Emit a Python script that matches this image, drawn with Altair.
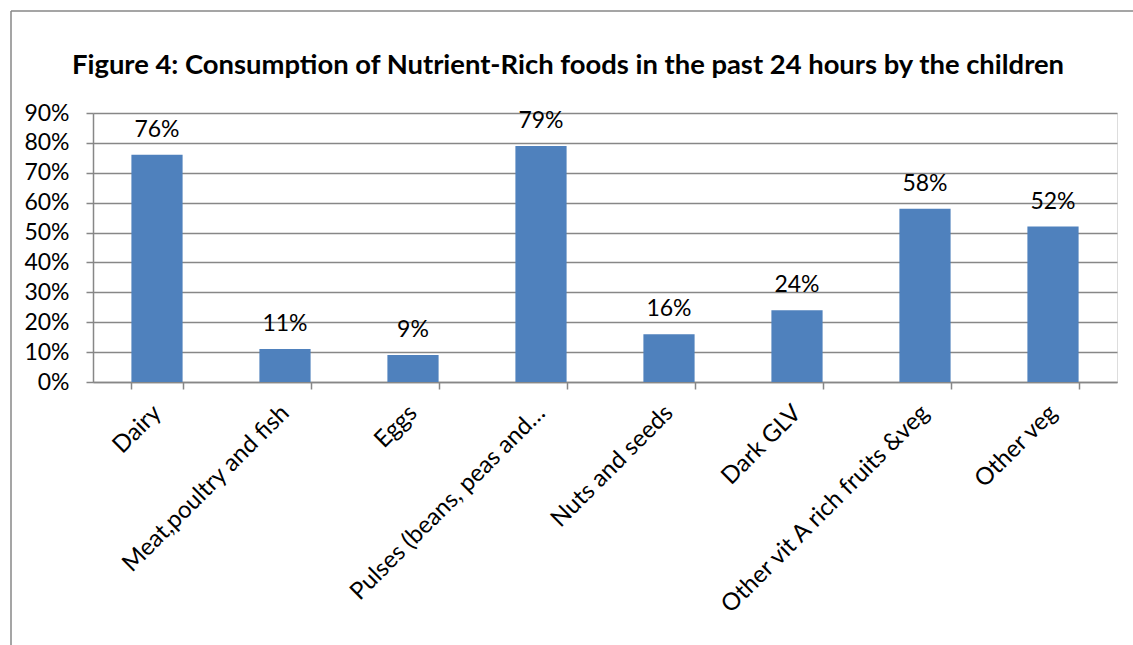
import altair as alt
import pandas as pd

# Share of children who ate each nutrient-rich food group in the past 24 hours
categories = [
    "Dairy",
    "Meat,poultry and fish",
    "Eggs",
    "Pulses (beans, peas and…",
    "Nuts and seeds",
    "Dark GLV",
    "Other vit A rich fruits &veg",
    "Other veg",
]
shares = [0.76, 0.11, 0.09, 0.79, 0.16, 0.24, 0.58, 0.52]
y_ticks = [0.0, 0.1, 0.2, 0.3, 0.4, 0.5, 0.6, 0.7, 0.8, 0.9]

df = pd.DataFrame({"food": categories, "share": shares})

FONT = "Lato"
GRAY = "#878787"
BLUE = "#4F81BD"
FS = 23

x_enc = alt.X(
    "food:N",
    sort=categories,
    title=None,
    scale=alt.Scale(paddingInner=0.6, paddingOuter=0.3),
    axis=alt.Axis(
        labelAngle=-45,
        labelAlign="right",
        labelBaseline="middle",
        labelFontSize=24,
        labelFont=FONT,
        labelColor="black",
        labelLimit=500,
        labelPadding=20,
        labelOverlap=False,
        tickBand="extent",
        tickSize=7,
        tickColor=GRAY,
        tickWidth=1.5,
        domainColor=GRAY,
        domainWidth=1.5,
        grid=False,
    ),
)
y_enc = alt.Y(
    "share:Q",
    title=None,
    scale=alt.Scale(domain=[0, 0.9], nice=False),
    axis=alt.Axis(
        values=y_ticks,
        format=".0%",
        labelFontSize=FS,
        labelFont=FONT,
        labelColor="black",
        labelPadding=17,
        labelOverlap=False,
        labelFlush=False,
        tickSize=7,
        tickColor=GRAY,
        tickWidth=1.5,
        domainColor=GRAY,
        domainWidth=1.5,
        gridColor=GRAY,
        gridWidth=1.5,
    ),
)

bars = alt.Chart(df).mark_bar(color=BLUE).encode(x=x_enc, y=y_enc)

labels = alt.Chart(df).mark_text(
    baseline="alphabetic", dy=-18, fontSize=FS, font=FONT, color="black"
).encode(
    x=x_enc,
    y=y_enc,
    text=alt.Text("share:Q", format=".0%"),
)

# Outer frame of the figure: left and top edges
frame = alt.Chart(alt.Data(values=[{}]))
left_edge = frame.mark_rule(color=GRAY, strokeWidth=1.5).encode(
    x=alt.value(-82), y=alt.value(-102), y2=alt.value(540)
)
top_edge = frame.mark_rule(color=GRAY, strokeWidth=1.5).encode(
    x=alt.value(-82), x2=alt.value(1040), y=alt.value(-102)
)

chart = (
    alt.layer(left_edge, top_edge, bars, labels)
    .properties(
        width=1024,
        height=269,
        title=alt.TitleParams(
            "Figure 4: Consumption of Nutrient-Rich foods in the past 24 hours by the children",
            font=FONT,
            fontSize=27.4,
            fontWeight="bold",
            color="black",
            anchor="middle",
            baseline="alphabetic",
            offset=0,
            dx=-37,
            dy=91,
        ),
        autosize=alt.AutoSizeParams(type="none"),
        padding={"left": 93, "top": 113, "right": 16, "bottom": 263},
    )
    .configure_view(stroke=None)
    .configure(background="white")
)

chart.save("out.html", embed_options={"renderer": "svg", "actions": False})
